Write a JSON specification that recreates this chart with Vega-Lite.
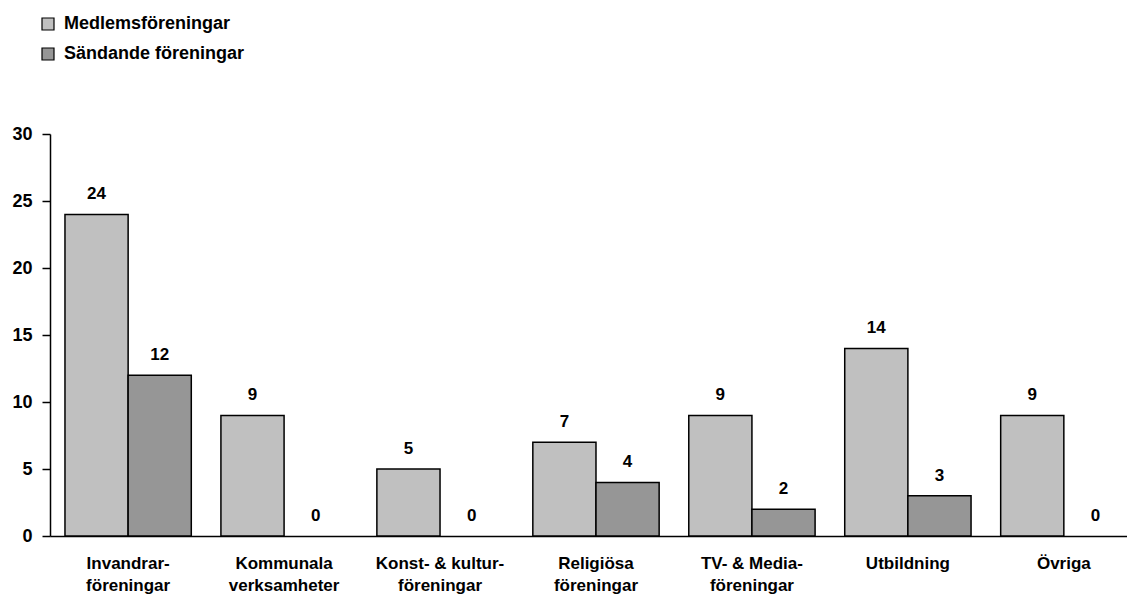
{
  "$schema": "https://vega.github.io/schema/vega-lite/v6.json",
  "width": 1077,
  "height": 402,
  "autosize": {"type": "none"},
  "padding": {"left": 50, "top": 134, "right": 0, "bottom": 58},
  "background": "white",
  "config": {
    "view": {"stroke": null},
    "font": "Liberation Sans",
    "axis": {"labelFont": "Liberation Sans", "labelFontWeight": "bold", "labelColor": "black", "domainColor": "black", "tickColor": "black", "grid": false, "domainWidth": 1.5, "tickWidth": 1.5}
  },
  "data": {
    "values": [
      {"kategori": "Invandrar-\nföreningar", "serie": "Medlemsföreningar", "antal": 24},
      {"kategori": "Invandrar-\nföreningar", "serie": "Sändande föreningar", "antal": 12},
      {"kategori": "Kommunala\nverksamheter", "serie": "Medlemsföreningar", "antal": 9},
      {"kategori": "Kommunala\nverksamheter", "serie": "Sändande föreningar", "antal": 0},
      {"kategori": "Konst- & kultur-\nföreningar", "serie": "Medlemsföreningar", "antal": 5},
      {"kategori": "Konst- & kultur-\nföreningar", "serie": "Sändande föreningar", "antal": 0},
      {"kategori": "Religiösa\nföreningar", "serie": "Medlemsföreningar", "antal": 7},
      {"kategori": "Religiösa\nföreningar", "serie": "Sändande föreningar", "antal": 4},
      {"kategori": "TV- & Media-\nföreningar", "serie": "Medlemsföreningar", "antal": 9},
      {"kategori": "TV- & Media-\nföreningar", "serie": "Sändande föreningar", "antal": 2},
      {"kategori": "Utbildning", "serie": "Medlemsföreningar", "antal": 14},
      {"kategori": "Utbildning", "serie": "Sändande föreningar", "antal": 3},
      {"kategori": "Övriga", "serie": "Medlemsföreningar", "antal": 9},
      {"kategori": "Övriga", "serie": "Sändande föreningar", "antal": 0}
    ]
  },
  "encoding": {
    "x": {
      "field": "kategori",
      "type": "nominal",
      "sort": null,
      "scale": {"paddingInner": 0.19, "paddingOuter": 0.048, "align": 1},
      "axis": {
        "title": null,
        "labelAngle": 0,
        "ticks": false,
        "labelFontSize": 17,
        "labelPadding": 27,
        "labelLineHeight": 22,
        "labelBaseline": "middle",
        "labelExpr": "split(datum.label, '\\n')"
      }
    },
    "xOffset": {"field": "serie", "type": "nominal", "scale": {"paddingInner": 0, "paddingOuter": 0}},
    "y": {
      "field": "antal",
      "type": "quantitative",
      "scale": {"domain": [0, 30], "nice": false},
      "axis": {"title": null, "values": [0, 5, 10, 15, 20, 25, 30], "tickSize": 8, "labelPadding": 10, "labelFontSize": 18}
    }
  },
  "layer": [
    {
      "mark": {"type": "bar", "stroke": "black", "strokeWidth": 1.5},
      "encoding": {
        "strokeOpacity": {"condition": {"test": "datum.antal === 0", "value": 0}, "value": 1},
        "color": {
          "field": "serie",
          "type": "nominal",
          "scale": {"domain": ["Medlemsföreningar", "Sändande föreningar"], "range": ["#c0c0c0", "#969696"]},
          "legend": {
            "title": null,
            "orient": "none",
            "legendX": -11,
            "legendY": -119,
            "symbolType": "square",
            "symbolSize": 144,
            "symbolStrokeColor": "black",
            "symbolStrokeWidth": 1.2,
            "symbolOpacity": 1,
            "labelFont": "Liberation Sans",
            "labelFontWeight": "bold",
            "labelFontSize": 18,
            "labelColor": "black",
            "labelOffset": 7,
            "rowPadding": 12,
            "labelLimit": 400
          }
        }
      }
    },
    {
      "mark": {"type": "text", "baseline": "alphabetic", "dy": -15, "fontSize": 17, "fontWeight": "bold", "color": "black"},
      "encoding": {"text": {"field": "antal", "type": "quantitative"}}
    }
  ]
}
